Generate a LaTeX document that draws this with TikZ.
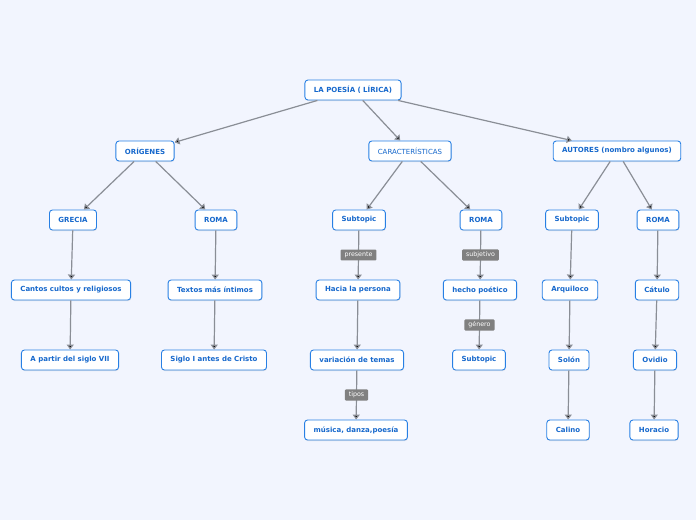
\documentclass[tikz,border=0pt]{standalone}
\usepackage{fontspec}
\setmainfont{DejaVu Sans}
\usetikzlibrary{positioning,arrows.meta,shadows}

\definecolor{bgcol}{RGB}{242,245,254}
\definecolor{topicline}{RGB}{40,128,228}
\definecolor{topictext}{RGB}{22,104,204}
\definecolor{linkgray}{RGB}{138,142,150}
\definecolor{taggray}{RGB}{128,128,128}

\begin{document}
\begin{tikzpicture}[x=1pt,y=1pt,node distance=70pt,on grid,
	topic/.style={draw=topicline,line width=0.9pt,fill=white,rounded corners=3pt,
		minimum height=20pt,inner xsep=9pt,text=topictext,
		font=\fontsize{7}{8}\selectfont\bfseries,
		drop shadow={opacity=0.18,shadow xshift=0.4pt,shadow yshift=-1pt}},
	link/.style={->,draw=linkgray,line width=1.2pt},
	tag/.style={fill=taggray,text=white,font=\fontsize{6.3}{7}\selectfont,
		inner xsep=4pt,inner ysep=2.5pt,rounded corners=1pt},
	>={Triangle[length=5pt,width=7pt]}]
	\fill[bgcol] (0,0) rectangle (696,-520);
	\useasboundingbox (0,0) rectangle (696,-520);

	\node[topic] (poesia) at (353,-90) {LA POESÍA ( LÍRICA)};
	\node[topic] (origenes) at (145,-151) {ORÍGENES};
	\node[topic,font=\fontsize{7}{8}\selectfont] (caract) at (410,-151) {CARACTERÍSTICAS};
	\node[topic] (autores) at (617,-151) {AUTORES (nombro algunos)};

	% origenes
	\node[topic] (grecia) [below left=69pt and 72pt of origenes] {GRECIA};
	\node[topic] (romaA) [below right=69pt and 71pt of origenes] {ROMA};
	\node[topic] (cantos) [below left=70pt and 2pt of grecia] {Cantos cultos y religiosos};
	\node[topic] (textos) [below left=70pt and 1pt of romaA] {Textos más íntimos};
	\node[topic] (partir) [below left=70pt and 1pt of cantos] {A partir del siglo VII};
	\node[topic] (siglo) [below left=70pt and 1pt of textos] {Siglo I antes de Cristo};

	% caracteristicas
	\node[topic] (subA) [below left=69pt and 51pt of caract] {Subtopic};
	\node[topic] (romaB) [below right=69pt and 71pt of caract] {ROMA};
	\node[topic] (hacia) [below left=70pt and 1pt of subA] {Hacia la persona};
	\node[topic] (hecho) [below left=70pt and 1pt of romaB] {hecho poético};
	\node[topic] (variacion) [below left=70pt and 1pt of hacia] {variación de temas};
	\node[topic] (subB) [below left=70pt and 1pt of hecho] {Subtopic};
	\node[topic] (musica) [below left=70pt and 1pt of variacion] {música, danza,poesía};

	% autores
	\node[topic] (subC) [below left=69pt and 45pt of autores] {Subtopic};
	\node[topic] (romaC) [below right=69pt and 41pt of autores] {ROMA};
	\node[topic] (arquiloco) [below left=70pt and 2pt of subC] {Arquiloco};
	\node[topic] (catulo) [below left=70pt and 1pt of romaC] {Cátulo};
	\node[topic] (solon) [below left=70pt and 1pt of arquiloco] {Solón};
	\node[topic] (ovidio) [below left=70pt and 2pt of catulo] {Ovidio};
	\node[topic] (calino) [below left=70pt and 1pt of solon] {Calino};
	\node[topic] (horacio) [below left=70pt and 1pt of ovidio] {Horacio};

	\path[link]
	(poesia) edge (origenes)
		edge (caract)
		edge (autores)
	(origenes) edge (grecia)
		edge (romaA)
	(grecia) edge (cantos)
	(romaA) edge (textos)
	(cantos) edge (partir)
	(textos) edge (siglo)
	(caract) edge (subA)
		edge (romaB)
	(subA) edge node[tag] {presente} (hacia)
	(romaB) edge node[tag] {subjetivo} (hecho)
	(hacia) edge (variacion)
	(hecho) edge node[tag] {género} (subB)
	(variacion) edge node[tag] {tipos} (musica)
	(autores) edge (subC)
		edge (romaC)
	(subC) edge (arquiloco)
	(romaC) edge (catulo)
	(arquiloco) edge (solon)
	(catulo) edge (ovidio)
	(solon) edge (calino)
	(ovidio) edge (horacio);
\end{tikzpicture}
\end{document}
